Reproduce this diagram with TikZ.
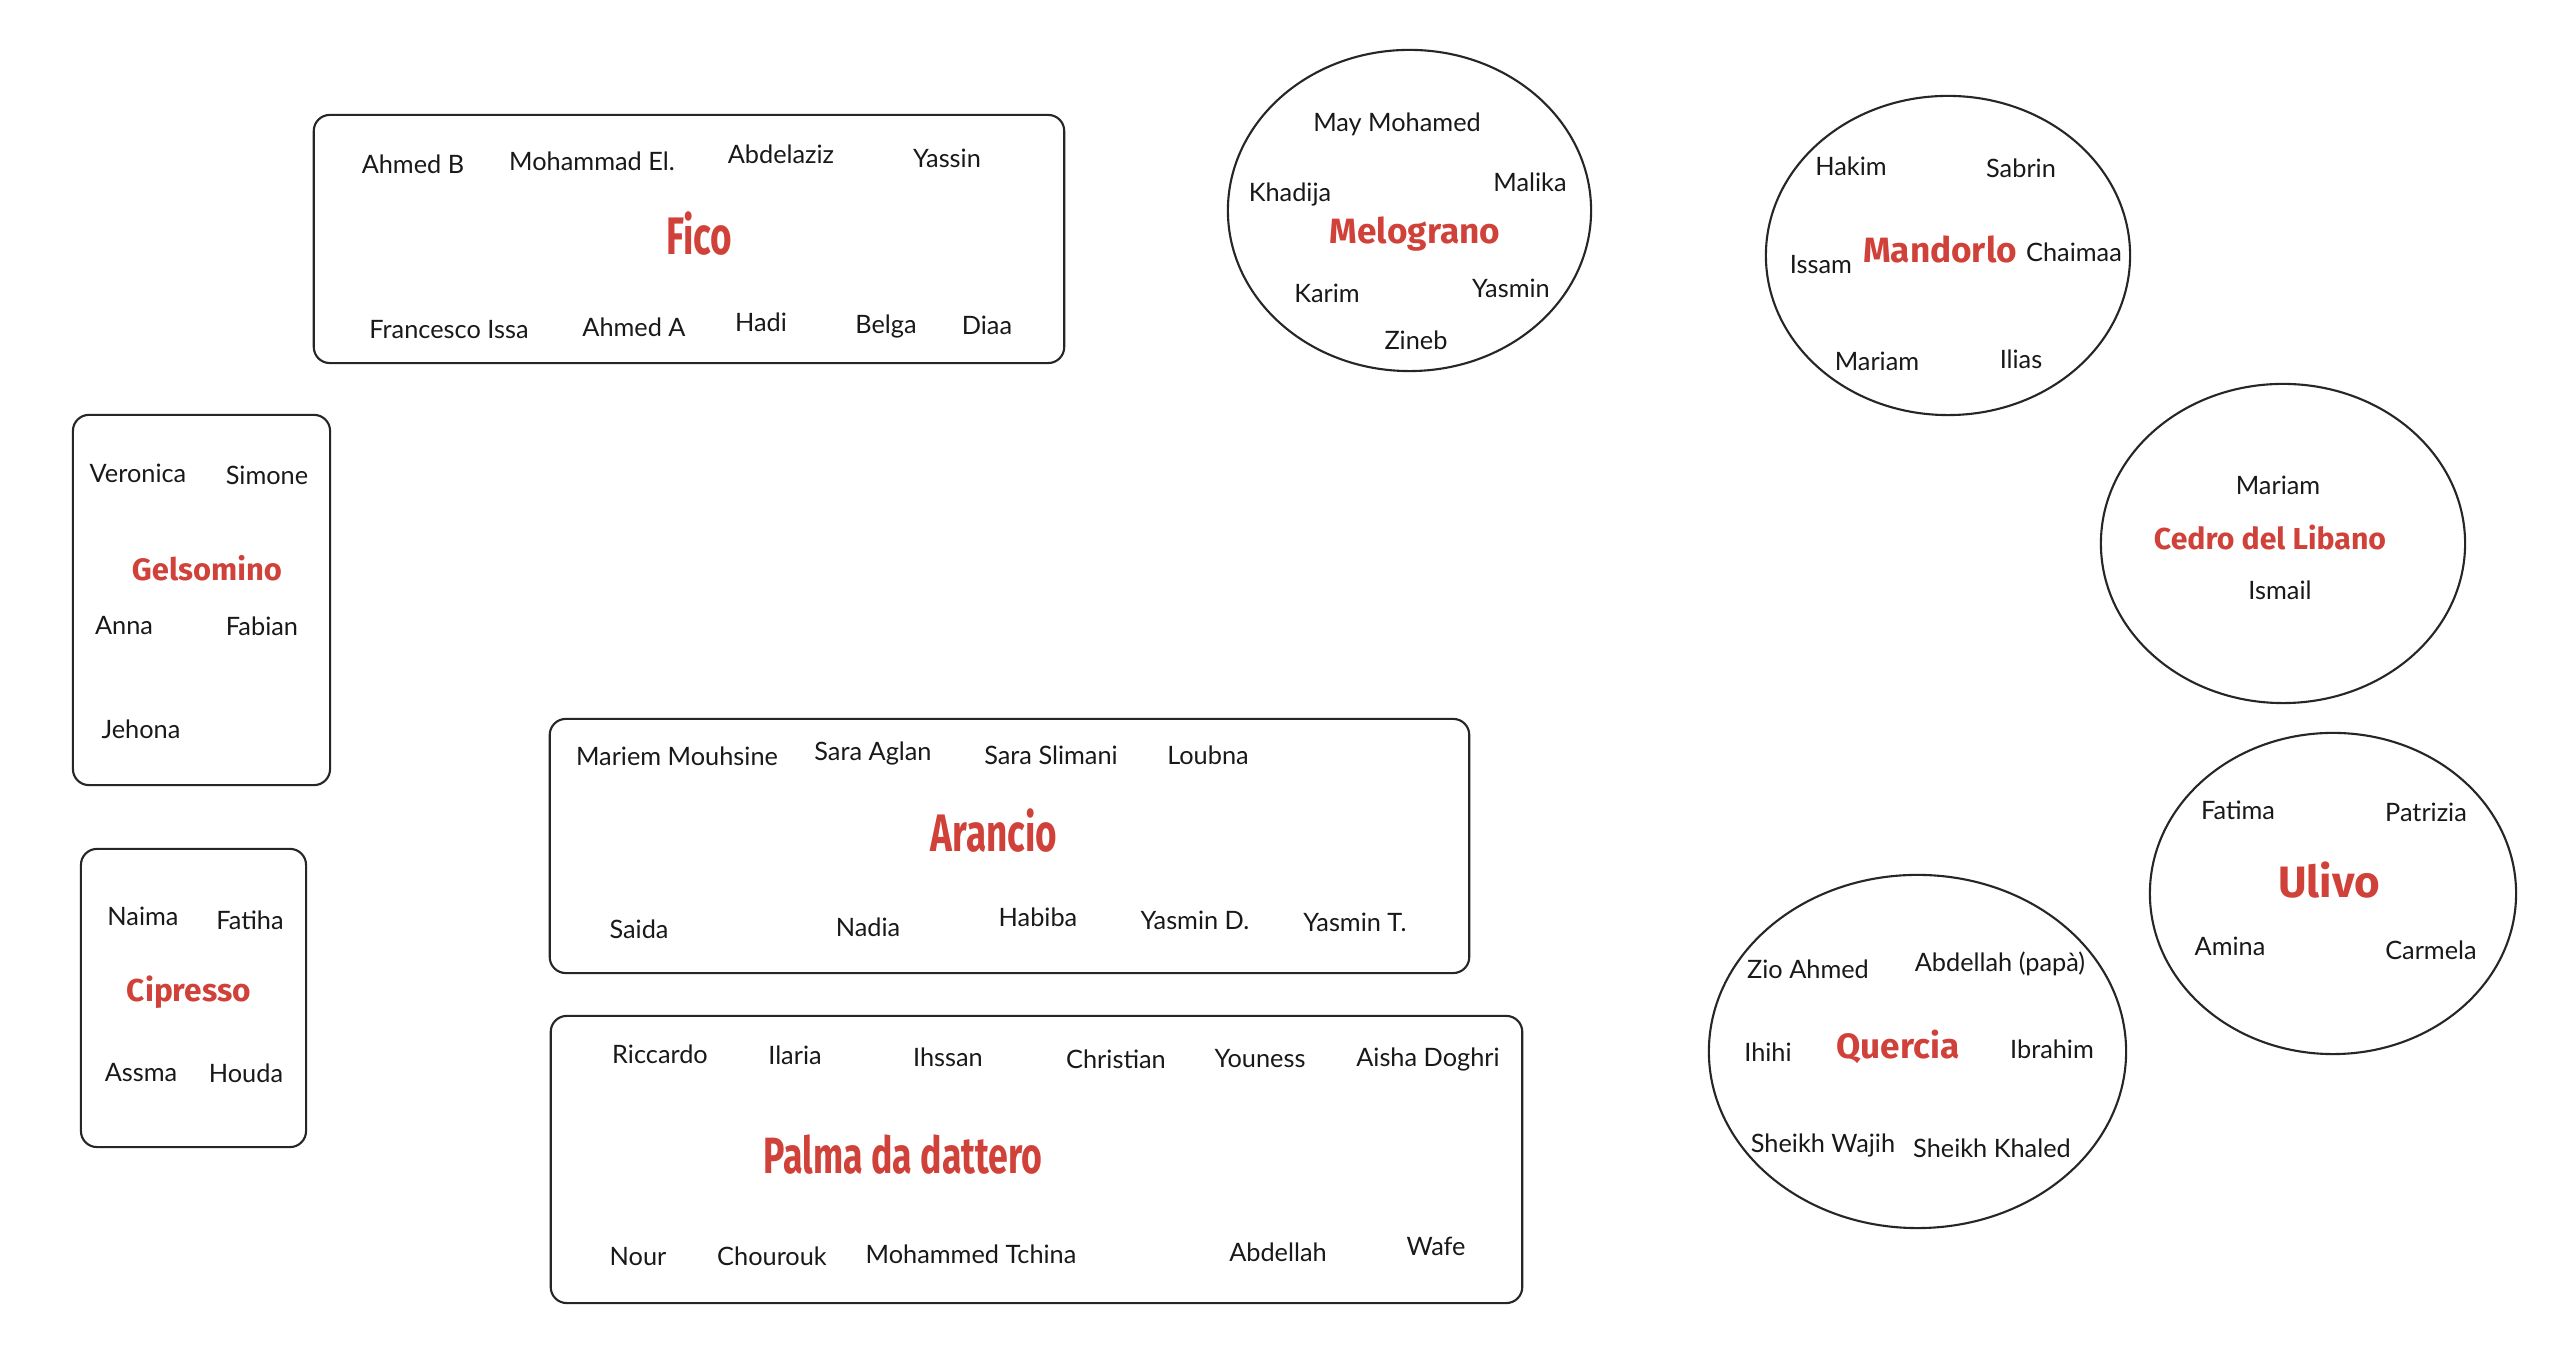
\documentclass[tikz,border=0pt]{standalone}
\usepackage{fontspec}
\setmainfont{Lato}
\newfontfamily\treefont{Fira Sans}
\newfontfamily\treecond{Fira Sans}[FakeStretch=0.7]
\usepackage{tikz}
\usetikzlibrary{shapes.geometric}
\definecolor{treered}{RGB}{208,65,58}

\begin{document}
\begin{tikzpicture}[
    x=0.01cm, y=-0.01cm,
    tablebox/.style={
        rectangle,
        rounded corners=0.16cm,
        draw=black!85,
        line width=0.6pt,
        inner sep=0pt
    },
    roundtable/.style={
        ellipse,
        draw=black!85,
        line width=0.6pt,
        inner sep=0pt
    },
    guest/.style={font=\fontsize{7.2}{9}\selectfont, text=black!90, inner sep=0pt},
    treename/.style={font=\treefont\bfseries\fontsize{10}{12}\selectfont, text=treered, inner sep=0pt},
    bigtreename/.style={font=\treecond\bfseries\fontsize{15}{18}\selectfont, text=treered, inner sep=0pt}
]

\fill[white] (0,0) rectangle (2550,1368);

% rectangular tables
\node[tablebox, minimum width=7.50cm, minimum height=2.48cm] (fico) at (689,239) {};
\node[tablebox, minimum width=2.57cm, minimum height=3.70cm] (gelsomino) at (201.5,600) {};
\node[tablebox, minimum width=2.25cm, minimum height=2.98cm] (cipresso) at (193.5,998) {};
\node[tablebox, minimum width=9.19cm, minimum height=2.54cm] (arancio) at (1009.5,846) {};
\node[tablebox, minimum width=9.71cm, minimum height=2.87cm] (palma) at (1036.5,1159.5) {};

% round tables
\node[roundtable, minimum width=3.63cm, minimum height=3.21cm] (melograno) at (1409.5,210.5) {};
\node[roundtable, minimum width=3.64cm, minimum height=3.19cm] (mandorlo) at (1948,255.5) {};
\node[roundtable, minimum width=3.64cm, minimum height=3.19cm] (cedro) at (2283,543.5) {};
\node[roundtable, minimum width=3.66cm, minimum height=3.21cm] (ulivo) at (2333,893.5) {};
\node[roundtable, minimum width=4.17cm, minimum height=3.53cm] (quercia) at (1917.5,1051.5) {};

% Fico
\node[bigtreename] (fico-title) at (699,234) {Fico};
\node[guest] (fico-ahmedb) at (413,164) {Ahmed B};
\node[guest] (fico-mohammad) at (592,161) {Mohammad El.};
\node[guest] (fico-abdelaziz) at (781,154) {Abdelaziz};
\node[guest] (fico-yassin) at (947,158) {Yassin};
\node[guest] (fico-francesco) at (449,330) {Francesco Issa};
\node[guest] (fico-ahmeda) at (634,327) {Ahmed A};
\node[guest] (fico-hadi) at (761,322) {Hadi};
\node[guest] (fico-belga) at (886,327) {Belga};
\node[guest] (fico-diaa) at (987,325) {Diaa};

% Melograno
\node[treename] (melograno-title) at (1415,234) {Melograno};
\node[guest] (melograno-may) at (1397,124) {May Mohamed};
\node[guest] (melograno-khadija) at (1290,194) {Khadija};
\node[guest] (melograno-malika) at (1530,182) {Malika};
\node[guest] (melograno-karim) at (1327,293) {Karim};
\node[guest] (melograno-yasmin) at (1511,288) {Yasmin};
\node[guest] (melograno-zineb) at (1416,340) {Zineb};

% Mandorlo
\node[treename] (mandorlo-title) at (1940,249) {Mandorlo};
\node[guest] (mandorlo-hakim) at (1851,166) {Hakim};
\node[guest] (mandorlo-sabrin) at (2021,168) {Sabrin};
\node[guest] (mandorlo-issam) at (1821,265) {Issam};
\node[guest] (mandorlo-chaimaa) at (2074,252) {Chaimaa};
\node[guest] (mandorlo-mariam) at (1877,361) {Mariam};
\node[guest] (mandorlo-ilias) at (2021,359) {Ilias};

% Cedro del Libano
\node[treename, font=\treefont\bfseries\fontsize{8.6}{11}\selectfont] (cedro-title) at (2270,538) {Cedro del Libano};
\node[guest] (cedro-mariam) at (2278,485) {Mariam};
\node[guest] (cedro-ismail) at (2280,590) {Ismail};

% Ulivo
\node[treename, font=\treefont\bfseries\fontsize{12.5}{15}\selectfont] (ulivo-title) at (2329,880) {Ulivo};
\node[guest] (ulivo-fatima) at (2238,810) {Fatima};
\node[guest] (ulivo-patrizia) at (2426,812) {Patrizia};
\node[guest] (ulivo-amina) at (2230,946) {Amina};
\node[guest] (ulivo-carmela) at (2431,950) {Carmela};

% Quercia
\node[treename, font=\treefont\bfseries\fontsize{10}{13}\selectfont] (quercia-title) at (1898,1047) {Quercia};
\node[guest] (quercia-zio) at (1808,969) {Zio Ahmed};
\node[guest] (quercia-abdellah) at (2000,964) {Abdellah (papà)};
\node[guest] (quercia-ihihi) at (1768,1052) {Ihihi};
\node[guest] (quercia-ibrahim) at (2052,1049) {Ibrahim};
\node[guest] (quercia-wajih) at (1823,1145) {Sheikh Wajih};
\node[guest] (quercia-khaled) at (1992,1148) {Sheikh Khaled};

% Gelsomino
\node[treename, font=\treefont\bfseries\fontsize{8.8}{11}\selectfont] (gelsomino-title) at (207,568) {Gelsomino};
\node[guest] (gelsomino-veronica) at (138,473) {Veronica};
\node[guest] (gelsomino-simone) at (267,475) {Simone};
\node[guest] (gelsomino-anna) at (124,626) {Anna};
\node[guest] (gelsomino-fabian) at (262,626) {Fabian};
\node[guest] (gelsomino-jehona) at (141,729) {Jehona};

% Cipresso
\node[treename, font=\treefont\bfseries\fontsize{9}{11}\selectfont] (cipresso-title) at (189,992) {Cipresso};
\node[guest] (cipresso-naima) at (143,916) {Naima};
\node[guest] (cipresso-fatiha) at (250,920) {Fatiha};
\node[guest] (cipresso-assma) at (141,1073) {Assma};
\node[guest] (cipresso-houda) at (246,1073) {Houda};

% Arancio
\node[bigtreename] (arancio-title) at (994,831) {Arancio};
\node[guest] (arancio-mariem) at (677,756) {Mariem Mouhsine};
\node[guest] (arancio-aglan) at (873,753) {Sara Aglan};
\node[guest] (arancio-slimani) at (1051,755) {Sara Slimani};
\node[guest] (arancio-loubna) at (1208,755) {Loubna};
\node[guest] (arancio-saida) at (639,929) {Saida};
\node[guest] (arancio-nadia) at (868,927) {Nadia};
\node[guest] (arancio-habiba) at (1038,917) {Habiba};
\node[guest] (arancio-yasmind) at (1195,920) {Yasmin D.};
\node[guest] (arancio-yasmint) at (1355,922) {Yasmin T.};

% Palma da dattero
\node[bigtreename, font=\treecond\bfseries\fontsize{14.5}{17}\selectfont] (palma-title) at (903,1155) {Palma da dattero};
\node[guest] (palma-riccardo) at (660,1054) {Riccardo};
\node[guest] (palma-ilaria) at (795,1055) {Ilaria};
\node[guest] (palma-ihssan) at (948,1057) {Ihssan};
\node[guest] (palma-christian) at (1116,1059) {Christian};
\node[guest] (palma-youness) at (1260,1059) {Youness};
\node[guest] (palma-aisha) at (1428,1059) {Aisha Doghri};
\node[guest] (palma-nour) at (638,1257) {Nour};
\node[guest] (palma-chourouk) at (772,1256) {Chourouk};
\node[guest] (palma-tchina) at (971,1254) {Mohammed Tchina};
\node[guest] (palma-abdellah) at (1278,1252) {Abdellah};
\node[guest] (palma-wafe) at (1436,1246) {Wafe};

\end{tikzpicture}
\end{document}
